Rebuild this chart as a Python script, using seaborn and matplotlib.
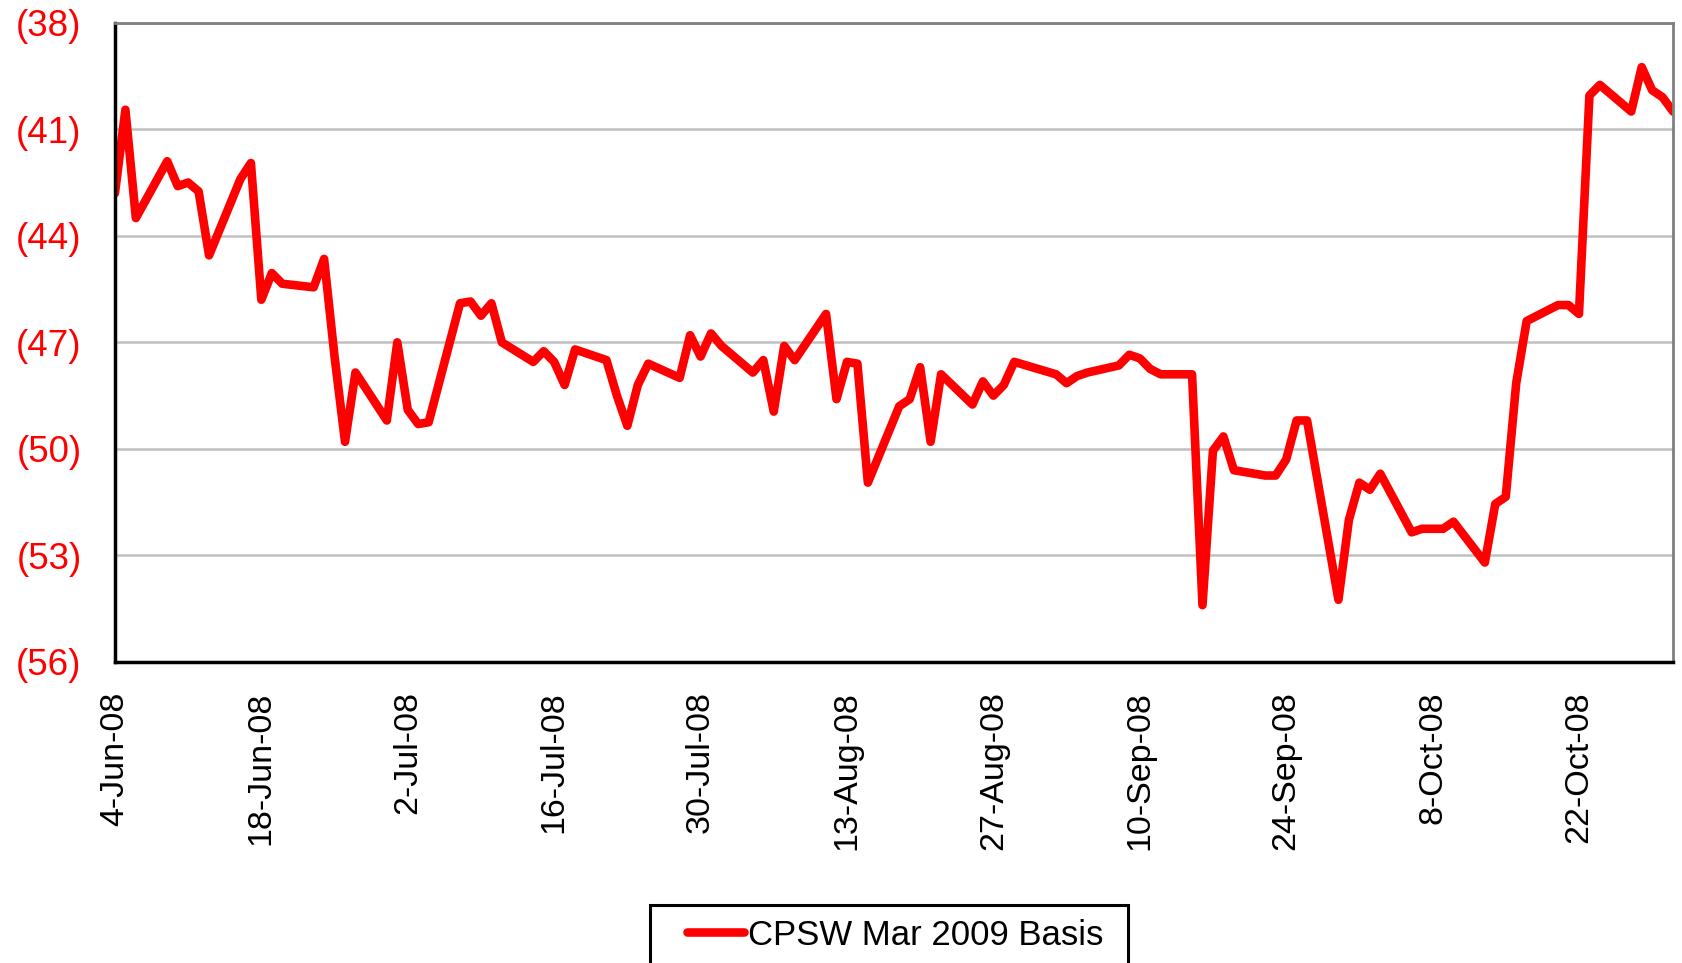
import matplotlib
matplotlib.use("Agg")
import matplotlib.pyplot as plt
from matplotlib.patches import Rectangle
from matplotlib.ticker import FuncFormatter
import pandas as pd
import seaborn as sns

# Data (daily basis, negative values shown in brackets)
dates = [
    "2008-06-04", "2008-06-05", "2008-06-06", "2008-06-09", "2008-06-10", "2008-06-11",
    "2008-06-12", "2008-06-13", "2008-06-16", "2008-06-17", "2008-06-18", "2008-06-19",
    "2008-06-20", "2008-06-23", "2008-06-24", "2008-06-25", "2008-06-26", "2008-06-27",
    "2008-06-30", "2008-07-01", "2008-07-02", "2008-07-03", "2008-07-04", "2008-07-07",
    "2008-07-08", "2008-07-09", "2008-07-10", "2008-07-11", "2008-07-14", "2008-07-15",
    "2008-07-16", "2008-07-17", "2008-07-18", "2008-07-21", "2008-07-22", "2008-07-23",
    "2008-07-24", "2008-07-25", "2008-07-28", "2008-07-29", "2008-07-30", "2008-07-31",
    "2008-08-01", "2008-08-04", "2008-08-05", "2008-08-06", "2008-08-07", "2008-08-08",
    "2008-08-11", "2008-08-12", "2008-08-13", "2008-08-14", "2008-08-15", "2008-08-18",
    "2008-08-19", "2008-08-20", "2008-08-21", "2008-08-22", "2008-08-25", "2008-08-26",
    "2008-08-27", "2008-08-28", "2008-08-29", "2008-09-02", "2008-09-03", "2008-09-04",
    "2008-09-05", "2008-09-08", "2008-09-09", "2008-09-10", "2008-09-11", "2008-09-12",
    "2008-09-15", "2008-09-16", "2008-09-17", "2008-09-18", "2008-09-19", "2008-09-22",
    "2008-09-23", "2008-09-24", "2008-09-25", "2008-09-26", "2008-09-29", "2008-09-30",
    "2008-10-01", "2008-10-02", "2008-10-03", "2008-10-06", "2008-10-07", "2008-10-08",
    "2008-10-09", "2008-10-10", "2008-10-13", "2008-10-14", "2008-10-15", "2008-10-16",
    "2008-10-17", "2008-10-20", "2008-10-21", "2008-10-22", "2008-10-23", "2008-10-24",
    "2008-10-27", "2008-10-28", "2008-10-29", "2008-10-30", "2008-10-31",
]
basis = [
    -42.8, -40.45, -43.5, -41.9, -42.6, -42.5,
    -42.75, -44.55, -42.4, -41.95, -45.8, -45.05,
    -45.35, -45.45, -44.65, -47.4, -49.8, -47.85,
    -49.2, -47.0, -48.9, -49.3, -49.25, -45.9,
    -45.85, -46.25, -45.9, -47.0, -47.55, -47.25,
    -47.55, -48.2, -47.2, -47.5, -48.5, -49.35,
    -48.2, -47.6, -48.0, -46.8, -47.4, -46.75,
    -47.1, -47.85, -47.5, -48.95, -47.1, -47.5,
    -46.2, -48.6, -47.55, -47.6, -50.95, -48.8,
    -48.6, -47.7, -49.8, -47.9, -48.75, -48.1,
    -48.5, -48.2, -47.55, -47.9, -48.15, -47.95,
    -47.85, -47.65, -47.35, -47.45, -47.75, -47.9,
    -47.9, -54.4, -50.05, -49.65, -50.6, -50.75,
    -50.75, -50.3, -49.2, -49.2, -54.25, -52.0,
    -50.95, -51.15, -50.7, -52.35, -52.25, -52.25,
    -52.25, -52.05, -53.2, -51.55, -51.35, -48.15,
    -46.4, -45.95, -45.95, -46.2, -40.05, -39.75,
    -40.5, -39.25, -39.9, -40.1, -40.5,
]
series_name = "CPSW Mar 2009 Basis"
tick_labels = ["4-Jun-08", "18-Jun-08", "2-Jul-08", "16-Jul-08", "30-Jul-08", "13-Aug-08",
               "27-Aug-08", "10-Sep-08", "24-Sep-08", "8-Oct-08", "22-Oct-08"]
y_ticks = [-56, -53, -50, -47, -44, -41, -38]
x_start, x_end = "2008-06-04", "2008-10-31"


def main():
    sns.set_style("white")
    plt.rcParams["font.family"] = ["Liberation Sans", "DejaVu Sans"]
    plt.rcParams["text.color"] = "black"

    df = pd.DataFrame({"date": pd.to_datetime(dates), "basis": basis})

    fig = plt.figure(figsize=(16.83, 9.63), dpi=100)
    ax = fig.add_axes([0.0683, 0.3126, 0.9258, 0.6638])

    sns.lineplot(data=df, x="date", y="basis", color="#FF0000", linewidth=6.2,
                 solid_joinstyle="round", ax=ax, legend=False)

    ax.set_xlim(pd.Timestamp(x_start), pd.Timestamp(x_end))
    ax.set_ylim(y_ticks[0], y_ticks[-1])

    ax.set_xticks(pd.to_datetime(tick_labels, format="%d-%b-%y"))
    ax.set_xticklabels(tick_labels, rotation=90, fontsize=24.5, color="black")
    ax.set_yticks(y_ticks)
    ax.yaxis.set_major_formatter(FuncFormatter(lambda v, _: f"({abs(v):.0f})"))
    ax.tick_params(axis="x", direction="out", length=7, width=2, pad=14,
                   color="black", labelcolor="black")
    ax.tick_params(axis="y", direction="out", length=9, width=2, pad=15,
                   labelsize=26.5, labelcolor="#FF0000", color="black")
    ax.set_xlabel("")
    ax.set_ylabel("")

    ax.yaxis.grid(True, color="#C0C0C0", linewidth=1.8)
    ax.xaxis.grid(False)
    ax.set_axisbelow(True)

    for side in ["left", "bottom"]:
        ax.spines[side].set_color("black")
        ax.spines[side].set_linewidth(2.5)
    for side in ["top", "right"]:
        ax.spines[side].set_color("#808080")
        ax.spines[side].set_linewidth(2)

    # legend box (runs off the bottom edge, as in the original)
    fig.add_artist(Rectangle((650 / 1683, -0.1), 478 / 1683, 0.0602 + 0.1,
                             transform=fig.transFigure, fill=False,
                             edgecolor="black", linewidth=2.2, clip_on=False))
    line = ax.get_lines()[0]
    leg = fig.legend([line], [series_name], loc="center left",
                     bbox_to_anchor=(687 / 1683, 1 - 935 / 963), frameon=False,
                     fontsize=25, handlelength=1.65, handletextpad=0.1,
                     borderpad=0, borderaxespad=0)
    for txt in leg.get_texts():
        txt.set_color("black")

    fig.savefig("out.png", dpi=100)


if __name__ == '__main__':
    main()
